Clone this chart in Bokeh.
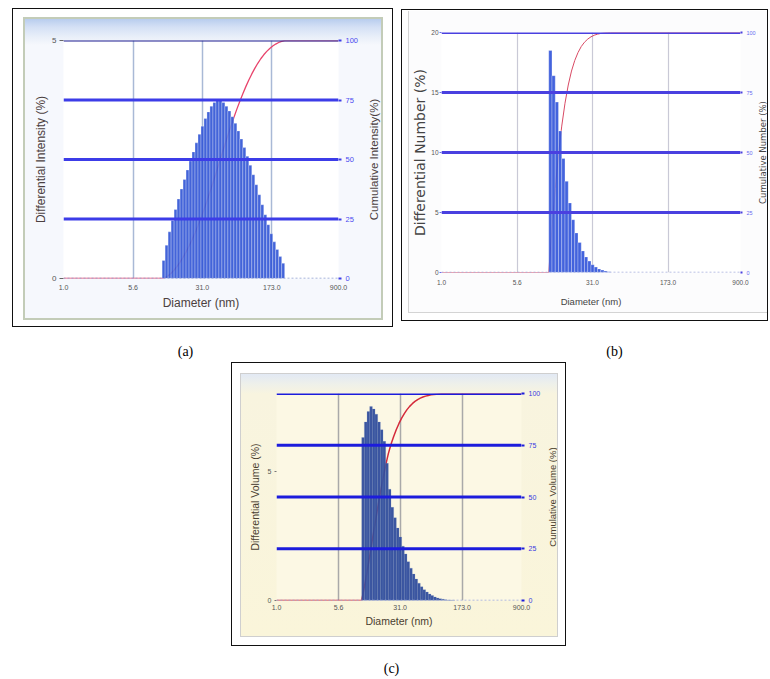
import numpy as np
from bokeh.plotting import figure
from bokeh.models import Range1d, LinearAxis, FixedTicker, Span, NumeralTickFormatter, Spacer
from bokeh.layouts import column, row
from bokeh.core.properties import value
from bokeh.embed import file_html
from bokeh.resources import INLINE

# ------------------------------------------------------------------ data
x_ticks = [1.0, 5.6, 31.0, 173.0, 900.0]          # Diameter (nm) tick values
cum_ticks = [0, 25, 50, 75, 100]                   # cumulative (%) ticks

# edges of the instrument's size classes (nm)
bin_edges_nm = [10.65, 11.47, 12.35, 13.30, 14.32, 15.42, 16.60, 17.88, 19.25, 20.73,
                22.32, 24.03, 25.87, 27.86, 29.99, 32.29, 34.77, 37.44, 40.32, 43.41,
                46.74, 50.33, 54.19, 58.35, 62.83, 67.65, 72.84, 78.43, 84.45, 90.93,
                97.91, 105.4, 113.5, 122.2, 131.6, 141.7, 152.6, 164.3, 176.9, 190.4,
                205.0, 220.8, 237.7]

# (a) intensity distribution
a_first_bin = 1
a_intensity = [0.38, 0.70, 0.98, 1.22, 1.45, 1.67, 1.88, 2.08, 2.28, 2.47,
               2.66, 2.85, 3.03, 3.20, 3.36, 3.50, 3.62, 3.70, 3.75, 3.74,
               3.70, 3.62, 3.52, 3.40, 3.26, 3.10, 2.93, 2.75, 2.57, 2.38,
               2.18, 1.97, 1.76, 1.55, 1.34, 1.13, 0.94, 0.77, 0.61, 0.46, 0.32]
a_left_ticks = [0, 5]

# (b) number distribution
b_first_bin = 1
b_number = [18.5, 16.4, 14.2, 11.8, 9.5, 7.6, 5.8, 4.4, 3.3, 2.5,
            1.8, 1.3, 0.95, 0.65, 0.45, 0.3, 0.2, 0.12, 0.07]
b_left_ticks = [0, 5, 10, 15, 20]

# (c) volume distribution
c_first_bin = 0
c_volume = [6.3, 6.9, 7.3, 7.5, 7.4, 7.2, 6.9, 6.6, 6.15, 5.3,
            4.3, 3.6, 3.2, 2.8, 2.45, 2.1, 1.8, 1.5, 1.25, 1.02,
            0.83, 0.67, 0.53, 0.42, 0.33, 0.25, 0.19, 0.14, 0.1, 0.07,
            0.05, 0.03, 0.02, 0.015, 0.01]
c_left_ticks = [0, 5]

captions = ["(a)", "(b)", "(c)"]


def build(W, H, frame, ymax, left_ticks, first_bin, vals, s):
    fl, ft, fw, fh = frame
    p = figure(width=W, height=H, x_axis_type="log", x_range=Range1d(1.0, 900.0),
               y_range=Range1d(0, ymax), output_backend="svg", toolbar_location=None,
               min_border_left=fl, min_border_top=ft,
               min_border_right=W - fl - fw, min_border_bottom=H - ft - fh)
    p.extra_y_ranges = {"cum": Range1d(0, 100)}
    p.background_fill_color = s["plot_bg"]
    p.border_fill_alpha = 0.0
    p.outline_line_color = None

    # vertical grid
    p.xgrid.ticker = FixedTicker(ticks=x_ticks)
    p.xgrid.grid_line_color = s["vgrid"]
    p.xgrid.grid_line_width = s["vgrid_w"]
    p.ygrid.visible = False

    # horizontal reference lines on the cumulative scale
    p.add_layout(Span(location=0, dimension="width", y_range_name="cum",
                      line_color=s["zero"], line_width=1.5, line_dash="2 2"))
    for lv in cum_ticks[1:-1]:
        p.add_layout(Span(location=lv, dimension="width", y_range_name="cum",
                          line_color=s["hline"], line_width=s["hline_w"]))
    p.add_layout(Span(location=cum_ticks[-1], dimension="width", y_range_name="cum",
                      line_color=s["top"], line_width=s["top_w"]))

    # cumulative curve (running sum of the differential values)
    n = len(vals)
    lo = bin_edges_nm[first_bin:first_bin + n]
    hi = bin_edges_nm[first_bin + 1:first_bin + 1 + n]
    c = np.cumsum(vals)
    c = c / c[-1] * 100.0
    xs = [1.0, lo[0]] + list(hi) + [900.0]
    ys = [0.0, 0.0] + list(c) + [100.0]
    p.line(xs, ys, y_range_name="cum", line_color=s["cum"], line_width=s["cum_w"])

    # histogram bars
    p.quad(left=lo, right=hi, bottom=0, top=vals, fill_color=s["bar"],
           fill_alpha=s["bar_alpha"], line_color=s["bar_line"], line_width=0.5,
           line_alpha=s["bar_line_alpha"])

    # x axis
    xa = p.xaxis[0]
    xa.ticker = FixedTicker(ticks=x_ticks)
    xa.formatter = NumeralTickFormatter(format="0.0")
    xa.axis_line_color = None
    xa.major_tick_in = 0
    xa.major_tick_out = 0
    xa.major_tick_line_color = None
    xa.minor_tick_line_color = None
    xa.major_label_text_font = s["font"]
    xa.major_label_text_font_size = s["xtick_fs"]
    xa.major_label_text_color = "#555555"
    xa.major_label_standoff = s["xtick_so"]
    xa.axis_label = "Diameter (nm)"
    xa.axis_label_text_font = s["font"]
    xa.axis_label_text_font_size = s["xlab_fs"]
    xa.axis_label_text_font_style = "normal"
    xa.axis_label_text_color = s["lab_col"]
    xa.axis_label_standoff = s["xlab_so"]

    # left axis
    ya = p.yaxis[0]
    ya.ticker = FixedTicker(ticks=left_ticks)
    ya.axis_line_color = None
    ya.major_tick_in = 0
    ya.major_tick_out = s["ltick_out"]
    ya.major_tick_line_color = s["ltick_col"]
    ya.minor_tick_line_color = None
    ya.major_label_text_font = s["font"]
    ya.major_label_text_font_size = s["ltick_fs"]
    ya.major_label_text_color = "#555555"
    ya.major_label_standoff = s["ltick_so"]
    ya.axis_label = s["left_title"]
    ya.axis_label_text_font = s["llab_font"]
    ya.axis_label_text_font_size = s["llab_fs"]
    ya.axis_label_text_font_style = "normal"
    ya.axis_label_text_color = s["lab_col"]
    ya.axis_label_standoff = s["llab_so"]

    # right (cumulative) axis: ticks only, its title sits in a side strip
    ra = LinearAxis(y_range_name="cum", ticker=FixedTicker(ticks=cum_ticks))
    ra.axis_line_color = None
    ra.major_tick_in = 0
    ra.major_tick_out = s["rtick_out"]
    ra.major_tick_line_color = s["hline"]
    ra.major_tick_line_width = 2
    ra.minor_tick_line_color = None
    ra.major_label_text_font = s["font"]
    ra.major_label_text_font_size = s["rtick_fs"]
    ra.major_label_text_color = s["rtick_col"]
    ra.major_label_standoff = s["rtick_so"]
    p.add_layout(ra, "right")
    return p


def side_title(H, frame, w, s):
    """Narrow strip carrying the cumulative-axis title, reading bottom to top."""
    fl, ft, fw, fh = frame
    p = figure(width=w, height=H, x_range=Range1d(0, 1), y_range=Range1d(0, 1),
               output_backend="svg", toolbar_location=None,
               min_border_left=w - 1, min_border_right=0, min_border_top=ft,
               min_border_bottom=H - ft - fh, x_axis_location=None, y_axis_location="left")
    p.grid.visible = False
    p.outline_line_color = None
    p.background_fill_alpha = 0.0
    p.border_fill_alpha = 0.0
    ax = p.yaxis[0]
    ax.ticker = FixedTicker(ticks=[])
    ax.axis_line_color = None
    ax.major_tick_in = 0
    ax.major_tick_out = 0
    ax.minor_tick_line_color = None
    ax.major_label_standoff = 0
    ax.axis_label = s["right_title"]
    ax.axis_label_text_font = s["rlab_font"]
    ax.axis_label_text_font_size = s["rlab_fs"]
    ax.axis_label_text_font_style = "normal"
    ax.axis_label_text_color = s["lab_col"]
    ax.axis_label_standoff = s["rlab_so"]
    return p


def wrap(content, outer_pad, inner_styles):
    inner = column(content, styles=inner_styles)
    return column(inner, styles={"border": "1px solid #111111", "padding": outer_pad,
                                 "background-color": "white"})


def caption_strip(H, y0, xs, ys, texts):
    p = figure(width=770, height=H, x_range=Range1d(0, 770), y_range=Range1d(y0 + H, y0),
               output_backend="svg", toolbar_location=None, min_border=0,
               x_axis_location=None, y_axis_location=None)
    p.grid.visible = False
    p.outline_line_color = None
    p.background_fill_color = "white"
    p.border_fill_color = "white"
    p.text(x=xs, y=ys, text=texts, text_align="center", text_baseline="middle",
           text_font=value("Liberation Serif"), text_font_size="14px", text_color="black")
    return p


style_a = dict(
    plot_bg="white",
    vgrid="#a9b9d6", vgrid_w=1.5, zero="#8b9bcf", hline="#3c3ce8", hline_w=3,
    top="#1d1d8f", top_w=2, cum="#e8446c", cum_w=1.3,
    bar="#3558d6", bar_alpha=0.93, bar_line="white", bar_line_alpha=0.55,
    font="Liberation Sans", xtick_fs="7px", xtick_so=6, xlab_fs="12px", xlab_so=3,
    lab_col="#4b4040",
    ltick_out=4, ltick_col="#666666", ltick_fs="8px", ltick_so=3,
    left_title="Differential Intensity (%)", llab_font="Liberation Sans", llab_fs="12px", llab_so=1,
    rtick_out=3, rtick_fs="7.5px", rtick_col="#4a4af0", rtick_so=4,
    right_title="Cumulative Intensity(%)", rlab_font="Liberation Sans", rlab_fs="11.5px", rlab_so=1,
)

style_b = dict(
    plot_bg="white",
    vgrid="#c9c9d6", vgrid_w=1.2, zero="#a3abdb", hline="#4a40e0", hline_w=3,
    top="#4a40e0", top_w=3, cum="#d84a64", cum_w=1.0,
    bar="#3557da", bar_alpha=0.93, bar_line="white", bar_line_alpha=0.55,
    font="Liberation Sans", xtick_fs="6.5px", xtick_so=7, xlab_fs="9.5px", xlab_so=8,
    lab_col="#444444",
    ltick_out=2, ltick_col="#6a6af0", ltick_fs="6.5px", ltick_so=1,
    left_title="Differential Number (%)", llab_font="DejaVu Sans", llab_fs="14px", llab_so=0,
    rtick_out=2, rtick_fs="5.5px", rtick_col="#6a6af0", rtick_so=4,
    right_title="Cumulative Number (%)", rlab_font="DejaVu Sans", rlab_fs="8.5px", rlab_so=0,
)

style_c = dict(
    plot_bg="#fcf8e4",
    vgrid="#a9a9a9", vgrid_w=1.5, zero="#9aa6e0", hline="#1c1cdc", hline_w=3,
    top="#1c1cdc", top_w=3, cum="#d42a3a", cum_w=1.5,
    bar="#2f4c9c", bar_alpha=0.95, bar_line="#6f86c0", bar_line_alpha=0.4,
    font="Liberation Sans", xtick_fs="7px", xtick_so=4, xlab_fs="10.5px", xlab_so=2,
    lab_col="#4a4030",
    ltick_out=2, ltick_col="#777777", ltick_fs="7px", ltick_so=3,
    left_title="Differential Volume (%)", llab_font="Liberation Sans", llab_fs="10.5px", llab_so=4,
    rtick_out=3, rtick_fs="7px", rtick_col="#3a3ae0", rtick_so=4,
    right_title="Cumulative Volume (%)", rlab_font="Liberation Sans", rlab_fs="9.5px", rlab_so=0,
)

frame_a = (38, 21, 277, 238)
frame_b = (27, 21, 306, 240)
frame_c = (35, 19, 247, 207)
fa = build(336, 299, frame_a, 5, a_left_ticks, a_first_bin, a_intensity, style_a)
fb = build(349, 301, frame_b, 20, b_left_ticks, b_first_bin, b_number, style_b)
fc = build(302, 262, frame_c, 8, c_left_ticks, c_first_bin, c_volume, style_c)
ta = side_title(299, frame_a, 20, style_a)
tb = side_title(301, frame_b, 9, style_b)
tc = side_title(262, frame_c, 14, style_c)

box_a = wrap(row(fa, ta), "8px 9px 6px 10px",
             {"border": "2px solid #c3ccb8",
              "background": "linear-gradient(to bottom, #b8cdee 0px, #d4e0f5 8px, #e9eff9 18px, #f6f8fd 26px, #f6f8fd 100%)"})
box_b = wrap(row(fb, tb), "1px 0px 7px 6px",
             {"border-left": "1px solid #d4d4d4", "border-bottom": "1px solid #d4d4d4",
              "background": "#fcfcfd"})
box_c = wrap(row(fc, tc), "10px 7px 8px 8px",
             {"border": "1px solid #cfcfcf",
              "background": "linear-gradient(to bottom, #e2e9f4 0px, #eef0ea 10px, #f8f4df 20px, #faf5da 100%)"})

top_row = row(Spacer(width=12, height=319), box_a, Spacer(width=8, height=10),
              column(Spacer(width=10, height=1), box_b))
cap1 = caption_strip(35, 327, [185, 614], [351, 351], captions[:2])
bottom_row = row(Spacer(width=231, height=284), box_c)
cap2 = caption_strip(33, 646, [391], [668], captions[2:])

page = column(Spacer(width=770, height=8), top_row, cap1, bottom_row, cap2)
open("out.html", "w").write(file_html(page, INLINE))
